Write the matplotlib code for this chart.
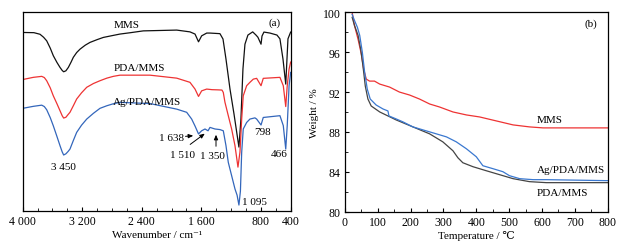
import matplotlib
matplotlib.use("Agg")
import matplotlib.pyplot as plt
from matplotlib.ticker import MultipleLocator, FixedLocator

plt.rcParams["font.family"] = ["Liberation Serif", "DejaVu Serif", "DejaVu Sans"]
plt.rcParams["font.size"] = 8

# ---- FTIR data (transmittance, arbitrary offset units) ----
wn_mms = [4000, 3850, 3768, 3720, 3678, 3630, 3589, 3540, 3499, 3470, 3450, 3420,
          3387, 3350, 3320, 3275, 3230, 3160, 3096, 3000, 2917, 2800, 2693, 2550,
          2380, 1931, 1753, 1685, 1638, 1596, 1528, 1484, 1350, 1309, 1269, 1215,
          1161, 1121, 1095, 1068, 1041, 1014, 974, 910, 866, 840, 798, 785, 759,
          678, 584, 544, 503, 466, 456, 436, 400]
t_mms = [89.9, 89.8, 89.0, 87.5, 85.7, 82.0, 78.2, 74.8, 72.3, 70.8, 70.1, 70.6,
         72.3, 75.0, 77.4, 79.8, 81.5, 83.5, 84.9, 86.3, 87.4, 88.3, 89.1, 89.8,
         90.7, 91.1, 90.2, 89.1, 85.2, 88.2, 89.6, 89.6, 89.3, 86.6, 76.5, 61.4,
         48.8, 38.7, 32.2, 46.3, 71.5, 84.0, 88.6, 90.2, 88.6, 87.5, 84.0, 88.1, 90.1,
         89.6, 88.6, 86.7, 76.5, 63.9, 71.5, 86.7, 90.1]

wn_pda = [4000, 3858, 3745, 3710, 3678, 3630, 3589, 3540, 3499, 3470, 3450, 3420,
          3390, 3365, 3320, 3275, 3210, 3140, 3050, 2962, 2870, 2783, 2693, 2290,
          1931, 1753, 1685, 1638, 1596, 1528, 1457, 1376, 1323, 1305,
          1283, 1238, 1193, 1148, 1108, 1081, 1058, 1037, 991, 947, 902, 857, 798,
          768, 544, 499, 466, 446, 421, 400]
t_pda = [66.2, 67.3, 67.8, 67.2, 65.6, 62.0, 58.0, 54.0, 50.5, 48.0, 46.8, 47.2,
         48.6, 49.7, 53.0, 56.4, 59.5, 62.3, 64.2, 65.6, 66.9, 67.8, 68.4, 68.4,
         66.9, 64.8, 61.4, 57.7, 60.5, 61.4, 61.1, 61.0, 60.9, 59.7,
         54.8, 48.0, 41.3, 32.9, 22.1, 29.7, 46.3, 58.0, 63.1, 64.8, 66.4, 66.8, 63.1,
         66.8, 67.3, 63.1, 52.6, 63.1, 71.5, 75.0]

wn_ag = [4000, 3858, 3745, 3710, 3678, 3630, 3589, 3540, 3499, 3470, 3450, 3420,
         3390, 3365, 3320, 3275, 3210, 3140, 3050, 2962, 2870, 2783, 2693, 2290,
         1931, 1797, 1730, 1685, 1638, 1596, 1551, 1510, 1484, 1417,
         1350, 1305, 1269, 1238, 1193, 1148, 1120, 1095, 1075, 1058, 1037, 991,
         947, 880, 857, 798, 768, 544, 499, 466, 446, 421, 400]
t_ag = [51.7, 52.7, 53.3, 52.6, 51.0, 47.0, 42.9, 37.5, 32.9, 29.8, 28.2, 28.8,
        30.0, 31.2, 35.5, 39.6, 43.2, 46.3, 49.2, 51.7, 53.0, 54.0, 54.7, 54.1,
        51.3, 49.7, 46.3, 42.8, 38.8, 40.4, 41.3, 40.4, 42.1, 41.3,
        41.0, 40.4, 32.9, 24.5, 17.8, 11.1, 8.0, 3.0, 10.0, 29.5, 41.3, 44.6,
        46.3, 46.9, 46.3, 43.3, 47.1, 48.0, 43.0, 31.2, 43.0, 63.1, 69.8]

# ---- TGA data ----
temp_mms = [22, 29, 40, 50, 57, 65, 75, 90, 106, 136, 166, 197, 227, 258, 288,
            329, 370, 410, 461, 512, 562, 603, 800]
w_mms = [100, 98.7, 97.3, 95.8, 94.3, 93.3, 93.1, 93.1, 92.8, 92.5, 92.0, 91.7,
         91.3, 90.8, 90.5, 90.0, 89.7, 89.5, 89.1, 88.7, 88.5, 88.4, 88.4]

temp_pda = [22, 29, 40, 48, 55, 62, 70, 80, 106, 156, 207, 258, 298, 329, 344,
            359, 390, 430, 471, 512, 562, 613, 800]
w_pda = [99.5, 98.7, 97.7, 96.3, 94.6, 92.6, 91.3, 90.6, 90.0, 89.2, 88.5, 87.8,
         87.0, 86.1, 85.4, 84.9, 84.5, 84.1, 83.7, 83.3, 83.0, 82.9, 82.9]

temp_ag = [22, 29, 38, 45, 53, 60, 68, 77, 95, 116, 131, 134, 156, 177, 207, 258,
           309, 339, 370, 400, 420, 451, 481, 501, 532, 573, 613, 800]
w_ag = [99.8, 99.2, 98.5, 97.7, 96.0, 94.0, 92.3, 91.3, 90.7, 90.3, 90.1, 89.6,
        89.3, 89.0, 88.5, 88.0, 87.5, 87.0, 86.3, 85.5, 84.6, 84.3, 84.0, 83.6,
        83.3, 83.2, 83.2, 83.1]

c_black = "#111111"
c_red = "#ee3333"
c_blue = "#3366bb"

fig = plt.figure(figsize=(6.26, 2.53), dpi=100)
ax1 = fig.add_axes([0.0363, 0.162, 0.428, 0.785])
ax2 = fig.add_axes([0.551, 0.160, 0.4197, 0.787])

# (a) FTIR
ax1.plot(wn_mms, t_mms, color=c_black, lw=0.9)
ax1.plot(wn_pda, t_pda, color=c_red, lw=0.9)
ax1.plot(wn_ag, t_ag, color=c_blue, lw=0.9)
ax1.set_xlim(4000, 400)
ax1.set_ylim(0, 100)
ax1.xaxis.set_major_locator(FixedLocator([4000, 3200, 2400, 1600, 800, 400]))
ax1.set_xticklabels(["4 000", "3 200", "2 400", "1 600", "800", "400"])
ax1.xaxis.set_minor_locator(MultipleLocator(200))
ax1.set_yticks([])
ax1.tick_params(axis="x", which="both", direction="in", labelsize=8.5, pad=3)
ax1.tick_params(axis="x", which="major", length=3)
ax1.tick_params(axis="x", which="minor", length=2.5)
ax1.set_xlabel("Wavenumber / cm⁻¹", fontsize=8, labelpad=2)

ax1.text(2783, 94.1, "MMS", ha="left", va="center")
ax1.text(2783, 72.5, "PDA/MMS", ha="left", va="center")
ax1.text(2783, 54.9, "Ag/PDA/MMS", ha="left", va="center")
ax1.text(611, 95, "(a)", ha="center", va="center")
ax1.text(3459, 22.6, "3 450", ha="center", va="center")
ax1.text(880, 5.0, "1 095", ha="center", va="center")
ax1.text(772, 39.8, "798", ha="center", va="center")
ax1.text(550, 29.2, "466", ha="center", va="center")
ax1.text(2000, 37.2, "1 638", ha="center", va="center")
ax1.text(1858, 28.7, "1 510", ha="center", va="center")
ax1.text(1455, 28.2, "1 350", ha="center", va="center")
arrow = dict(arrowstyle="-|>,head_length=0.35,head_width=0.15", color="black", lw=0.7)
ax1.annotate("", xy=(1672, 38.0), xytext=(1850, 37.5), arrowprops=arrow)
ax1.annotate("", xy=(1524, 39.8), xytext=(1780, 32.7), arrowprops=arrow)
ax1.annotate("", xy=(1403, 39.8), xytext=(1403, 31.2), arrowprops=arrow)

# (b) TGA
ax2.plot(temp_mms, w_mms, color=c_red, lw=0.9)
ax2.plot(temp_pda, w_pda, color="#444444", lw=0.9)
ax2.plot(temp_ag, w_ag, color="#3a78d0", lw=0.9)
ax2.set_xlim(0, 800)
ax2.set_ylim(80, 100)
ax2.xaxis.set_major_locator(MultipleLocator(100))
ax2.xaxis.set_minor_locator(MultipleLocator(50))
ax2.yaxis.set_major_locator(MultipleLocator(4))
ax2.yaxis.set_minor_locator(MultipleLocator(2))
ax2.tick_params(which="both", direction="in", labelsize=8.5, pad=3)
ax2.tick_params(which="major", length=3)
ax2.tick_params(which="minor", length=2)
ax2.set_xlabel("Temperature / ℃", fontsize=8, labelpad=2)
ax2.set_ylabel("Weight / %", fontsize=8, labelpad=3)

ax2.text(585, 89.2, "MMS", ha="left", va="center")
ax2.text(585, 84.2, "Ag/PDA/MMS", ha="left", va="center")
ax2.text(585, 81.9, "PDA/MMS", ha="left", va="center")
ax2.text(749, 98.9, "(b)", ha="center", va="center")

for ax in (ax1, ax2):
    for s in ax.spines.values():
        s.set_linewidth(0.9)

fig.savefig("out.png", dpi=100)
